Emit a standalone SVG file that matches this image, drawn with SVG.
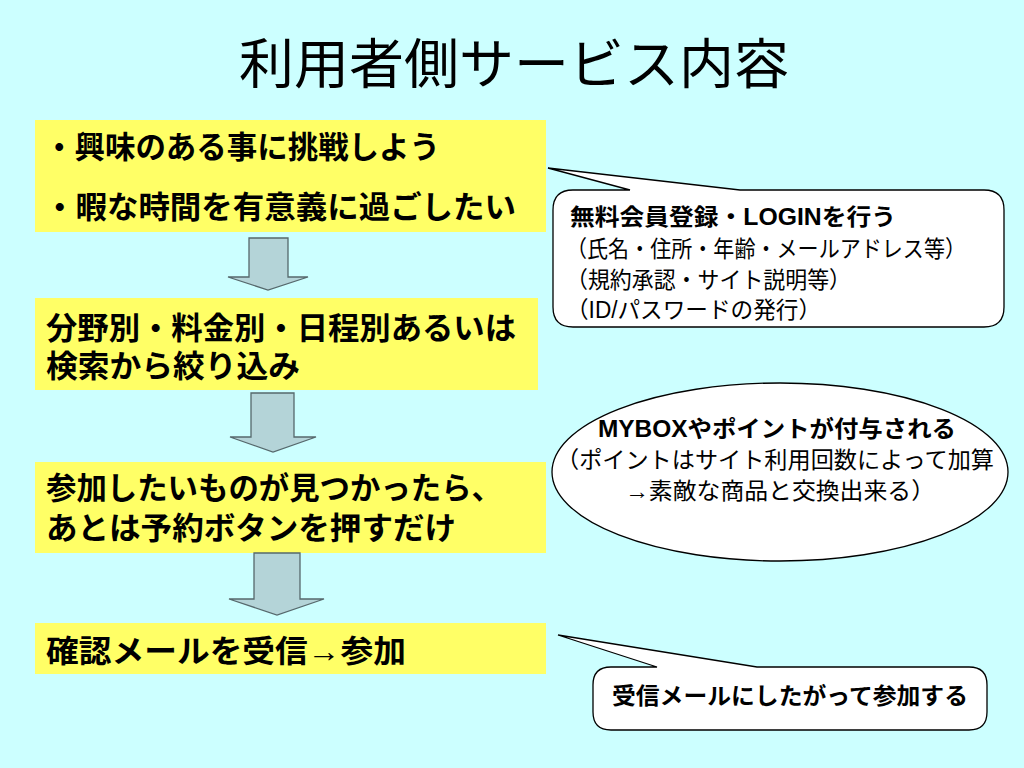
<svg xmlns="http://www.w3.org/2000/svg" width="1024" height="768" viewBox="0 0 1024 768">
<defs>
<style>
.bg{fill:#CCFFFF}
.box{fill:#FFFF66}
.arr{fill:#B4D4D8;stroke:#56686C;stroke-width:1.3}
.call{fill:#FFFFFF;stroke:#000000;stroke-width:1.3}
text{font-family:"Liberation Sans","Noto Sans CJK JP",sans-serif;fill:#000000}
.title{font-size:54px;font-weight:normal}
.bt{font-size:31px;font-weight:bold}
.ct{font-size:23px}
.cb{font-size:23px;font-weight:bold}
</style>
</defs>
<rect class="bg" x="0" y="0" width="1024" height="768"/>
<text class="title" x="514" y="84" text-anchor="middle" textLength="550" lengthAdjust="spacingAndGlyphs">利用者側サービス内容</text>

<g id="step1">
<rect class="box" x="35" y="120" width="511" height="112"/>
<text class="bt" x="44" y="158" textLength="396" lengthAdjust="spacingAndGlyphs">・興味のある事に挑戦しよう</text>
<text class="bt" x="44" y="218" textLength="472" lengthAdjust="spacingAndGlyphs">・暇な時間を有意義に過ごしたい</text>
</g>
<g id="step2">
<rect class="box" x="35" y="298" width="503" height="92"/>
<text class="bt" x="46" y="339" textLength="470" lengthAdjust="spacingAndGlyphs">分野別・料金別・日程別あるいは</text>
<text class="bt" x="46" y="377" textLength="254" lengthAdjust="spacingAndGlyphs">検索から絞り込み</text>
</g>
<g id="step3">
<rect class="box" x="35" y="462" width="511" height="91"/>
<text class="bt" x="46" y="499" textLength="456" lengthAdjust="spacingAndGlyphs">参加したいものが見つかったら、</text>
<text class="bt" x="46" y="539" textLength="410" lengthAdjust="spacingAndGlyphs">あとは予約ボタンを押すだけ</text>
</g>
<g id="step4">
<rect class="box" x="35" y="623" width="511" height="51"/>
<text class="bt" x="46" y="662" textLength="360" lengthAdjust="spacingAndGlyphs">確認メールを受信→参加</text>
</g>

<g id="connectors">
<path class="arr" d="M249,238 H288 V277 H308 L268,290 L228,277 H249 Z"/>
<path class="arr" d="M251,393 H294 V437 H316 L273,452 L230,437 H251 Z"/>
<path class="arr" d="M254,553 H300 V599 H324 L277,615 L229,599 H254 Z"/>
</g>

<g id="callout1">
<path class="call" d="M573,190 H630 L548,168 L740,190 H984 Q1004,190 1004,210 V307 Q1004,327 984,327 H573 Q553,327 553,307 V210 Q553,190 573,190 Z"/>
<text class="cb" x="570" y="225" textLength="326" lengthAdjust="spacingAndGlyphs">無料会員登録・LOGINを行う</text>
<text class="ct" x="566" y="257" textLength="400" lengthAdjust="spacingAndGlyphs">（氏名・住所・年齢・メールアドレス等）</text>
<text class="ct" x="566" y="288" textLength="285" lengthAdjust="spacingAndGlyphs">（規約承認・サイト説明等）</text>
<text class="ct" x="566" y="318" textLength="255" lengthAdjust="spacingAndGlyphs">（ID/パスワードの発行）</text>
</g>

<g id="callout2">
<ellipse class="call" cx="780" cy="472" rx="228" ry="89"/>
<text class="cb" x="777" y="437" text-anchor="middle" textLength="358" lengthAdjust="spacingAndGlyphs">MYBOXやポイントが付与される</text>
<text class="ct" x="775" y="468" text-anchor="middle" textLength="438" lengthAdjust="spacingAndGlyphs">（ポイントはサイト利用回数によって加算</text>
<text class="ct" x="780" y="499" text-anchor="middle" textLength="310" lengthAdjust="spacingAndGlyphs">→素敵な商品と交換出来る）</text>
</g>

<g id="callout3">
<path class="call" d="M611,667 H657 L558,635 L757,667 H969 Q987,667 987,685 V712 Q987,730 969,730 H611 Q593,730 593,712 V685 Q593,667 611,667 Z"/>
<text class="cb" x="612" y="704" textLength="356" lengthAdjust="spacingAndGlyphs">受信メールにしたがって参加する</text>
</g>
</svg>
